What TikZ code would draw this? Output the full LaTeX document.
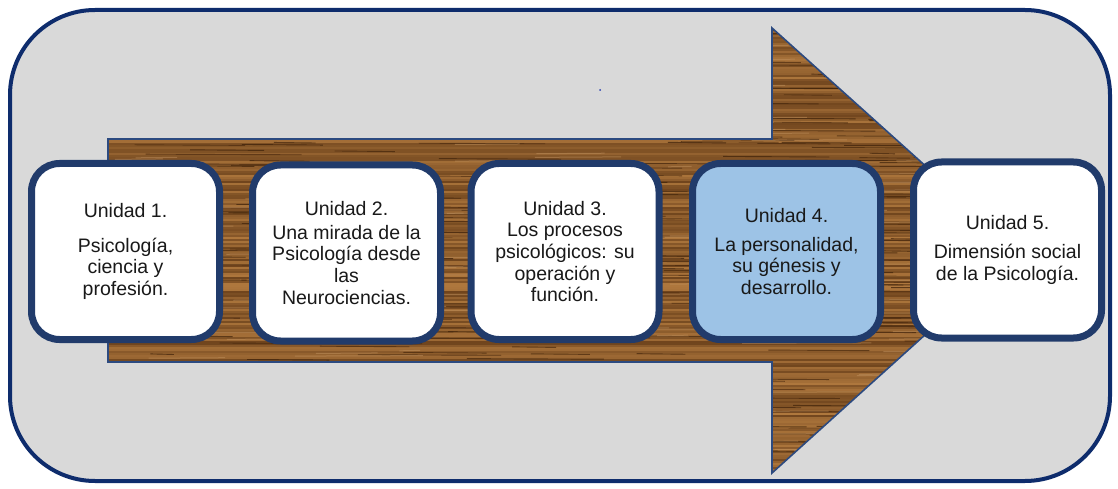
\documentclass[tikz,border=0pt]{standalone}
\usepackage{fontspec}
\setmainfont{Liberation Sans}
\definecolor{outernavy}{HTML}{0E2C6C}
\definecolor{boxnavy}{HTML}{213B6B}
\definecolor{arrownavy}{HTML}{2C4A80}
\definecolor{panelgray}{HTML}{D9D9D9}
\definecolor{lightblue}{HTML}{9DC3E6}
\definecolor{wooddark}{HTML}{5A3312}
\definecolor{woodmid}{HTML}{8C5A28}
\definecolor{woodlight}{HTML}{B47C40}
\definecolor{woodblack}{HTML}{3A1F08}
\definecolor{dotblue}{HTML}{2A3FB0}
\tikzset{
  unitbox/.style={draw=boxnavy, line width=7pt, rounded corners=28pt, fill=white,
    minimum width=188pt, minimum height=176pt, align=center, inner sep=0pt,
    font=\fontsize{19.5}{21.6}\selectfont, text=black!90},
  panel/.style={draw=outernavy, line width=4pt, rounded corners=85pt, fill=panelgray},
}
\begin{document}
\begin{tikzpicture}[x=1pt,y=-1pt]
\useasboundingbox (0,0) rectangle (1118,489);
\fill[white] (0,0) rectangle (1118,489);
\draw[panel] (10,10) rectangle (1110,481);
% wooden arrow
\begin{scope}
\clip (108,139) -- (772,139) -- (772,28) -- (1019,250) -- (772,473) -- (772,362) -- (108,362) -- cycle;
\fill[woodmid] (100,20) rectangle (1030,480);
\pgfmathsetseed{11}
\foreach \i in {0,...,228}{
  \pgfmathsetmacro{\yy}{26+2*\i}
  \pgfmathsetmacro{\mix}{int(25+70*rnd)}
  \draw[line width=2.2pt, draw=woodlight!\mix!wooddark] (100,\yy) -- (1030,\yy);
}
\foreach \j in {1,...,420}{
  \pgfmathsetmacro{\xx}{100+930*rnd}
  \pgfmathsetmacro{\yy}{26+455*rnd}
  \pgfmathsetmacro{\ll}{20+140*rnd}
  \pgfmathsetmacro{\mix}{int(60*rnd)}
  \draw[line width=0.9pt, draw=wooddark!\mix!woodblack, opacity=0.7] (\xx,\yy) -- ++(\ll,0.6);
}
\foreach \j in {1,...,200}{
  \pgfmathsetmacro{\xx}{100+930*rnd}
  \pgfmathsetmacro{\yy}{26+455*rnd}
  \pgfmathsetmacro{\ll}{20+120*rnd}
  \draw[line width=1pt, draw=woodlight!85!white, opacity=0.5] (\xx,\yy) -- ++(\ll,-0.5);
}
\end{scope}
\draw[arrownavy, line width=1.6pt, line join=miter] (108,139) -- (772,139) -- (772,28) -- (1019,250) -- (772,473) -- (772,362) -- (108,362) -- cycle;
% small dot
\fill[dotblue] (600,90) circle (1pt);
% unit boxes
\node[unitbox] (u1) at (125.5,251.5) {Unidad 1.\\[13pt]Psicología,\\ciencia y\\profesión.};
\node[unitbox] (u2) at (346.5,253) {Unidad 2.\\[2pt]Una mirada de la\\Psicología desde\\las\\Neurociencias.};
\node[unitbox] (u3) at (565,251.5) {Unidad 3.\\Los procesos\\psicológicos: su\\operación y\\función.};
\node[unitbox, fill=lightblue] (u4) at (786.5,251.5) {Unidad 4.\\[7pt]La personalidad,\\su génesis y\\desarrollo.};
\node[unitbox] (u5) at (1007.5,250) {Unidad 5.\\[7pt]Dimensión social\\de la Psicología.};
\end{tikzpicture}
\end{document}
